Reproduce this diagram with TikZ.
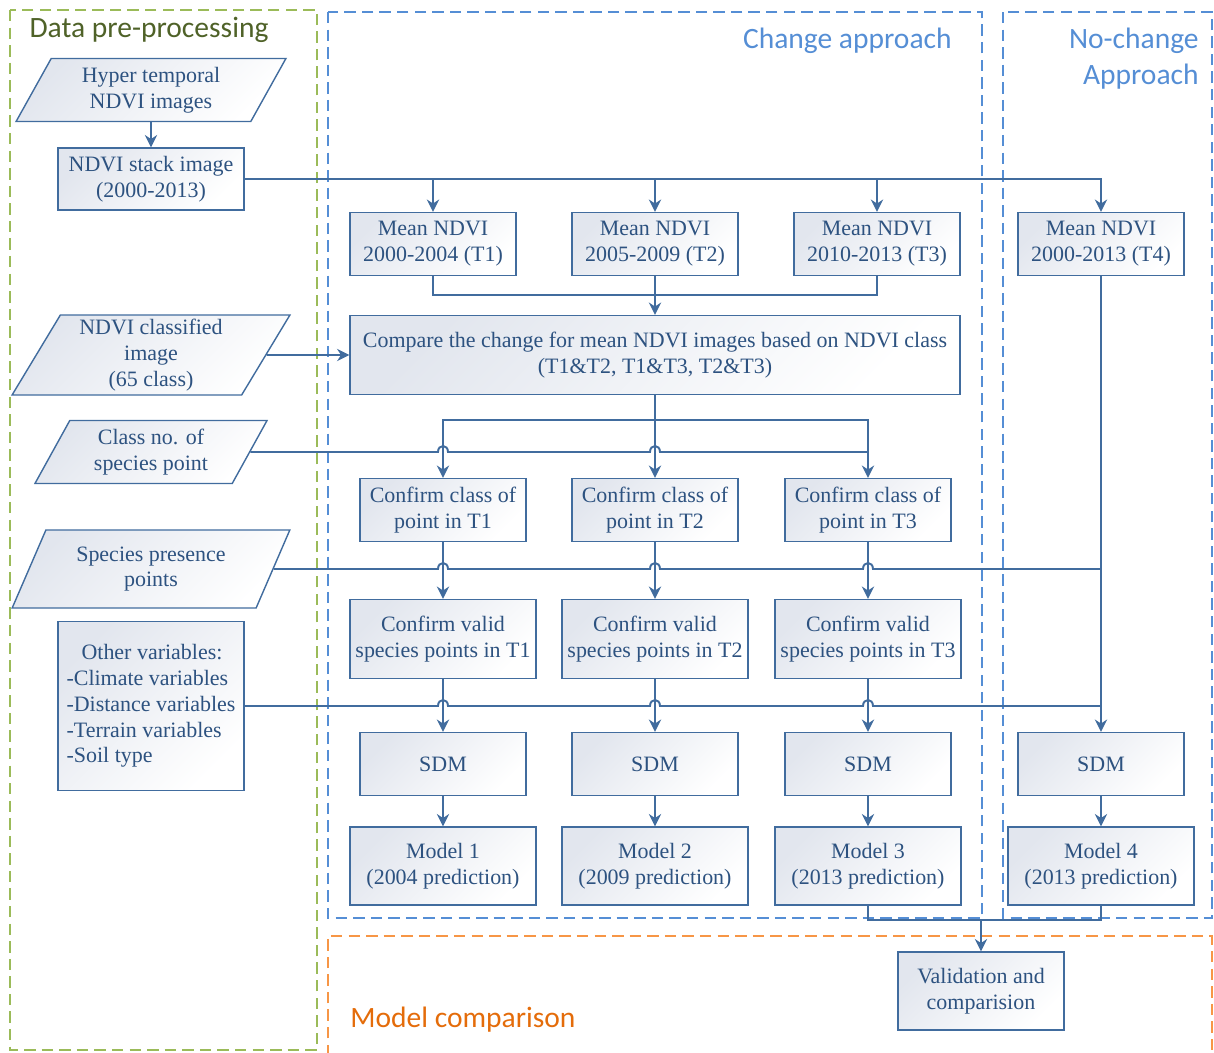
\documentclass[tikz,border=0pt]{standalone}
\usepackage{fontspec}
\setmainfont{Liberation Serif}
\newfontfamily\headfont{Carlito}
\usepackage{tikz}
\usetikzlibrary{arrows.meta, calc, shapes.geometric}
\definecolor{flowblue}{RGB}{65,108,158}
\definecolor{flowtext}{RGB}{45,82,128}
\definecolor{boxshade}{RGB}{226,230,238}
\definecolor{prepgreen}{RGB}{155,187,89}
\definecolor{prepdark}{RGB}{79,98,40}
\definecolor{approachblue}{RGB}{85,142,213}
\definecolor{compareorange}{RGB}{247,150,70}
\definecolor{comparedark}{RGB}{228,108,10}
\newcommand{\boxfont}{\fontsize{12.5}{14.7}\selectfont}
\newcommand{\headsize}{\headfont\fontsize{16.8}{20.4}\selectfont}

\begin{document}
\begin{tikzpicture}[x=0.02cm, y=-0.02cm, >={Stealth[length=7pt,width=7pt]},
    flowbox/.style={draw=flowblue, line width=0.8pt, text=flowtext, font=\boxfont,
      align=center, inner sep=0pt, top color=boxshade, bottom color=white,
      shading angle=45},
    smallbox/.style={flowbox, minimum width=3.32cm, minimum height=1.26cm},
    widebox/.style={flowbox, minimum width=3.72cm, minimum height=1.58cm},
    datain/.style 2 args={flowbox, trapezium, trapezium left angle=62,
      trapezium right angle=118, trapezium stretches=true,
      minimum width=#1, minimum height=#2},
    link/.style={draw=flowblue, line width=1.1pt},
    region/.style={line width=1.5pt, dash pattern=on 6.5pt off 3.5pt},
    title/.style={font=\headsize, inner sep=0pt},
    hopover/.style={insert path={.. controls +(0,-8) and +(0,-8) .. ++(10,0)}}]
  \useasboundingbox (0,0) rectangle (1214,1052);

  % dashed regions and their titles
  \draw[region, prepgreen] (10,10) rectangle (317,1050);
  \draw[region, approachblue] (328,12) rectangle (982,918);
  \draw[region, approachblue] (1003,12) rectangle (1212,918);
  \draw[region, compareorange] (328,1056) -- (328,936) -- (1212,936) -- (1212,1056);
  \node[title, text=prepdark] (preplabel) at (149,30) {Data pre-processing};
  \node[title, text=approachblue, anchor=east] (changelabel) at (952,41) {Change approach};
  \node[title, text=approachblue, anchor=east, align=right] (nochangelabel)
    at (1199,59) {No-change\\Approach};
  \node[title, text=comparedark, anchor=west] (comparelabel) at (350,1020) {Model comparison};

  % inputs
  \node[datain={5.4cm}{1.26cm}] (hyper) at (151,90) {Hyper temporal\\NDVI images};
  \node[flowbox, minimum width=3.72cm, minimum height=1.24cm] (stack) at (151,179)
    {NDVI stack image\\(2000-2013)};
  \node[datain={5.56cm}{1.6cm}] (classified) at (151,355) {NDVI classified\\image\\(65 class)};
  \node[datain={4.68cm}{1.26cm}] (classno) at (151,452) {Class no. of\\species point};
  \node[datain={5.56cm}{1.56cm}] (presence) at (151,569) {Species presence\\points};
  \node[flowbox, minimum width=3.72cm, minimum height=3.38cm, align=left] (othervar) at (151,706)
    {\hspace*{0.3cm}Other variables:\\-Climate variables\\-Distance variables\\-Terrain variables\\-Soil type};

  % mean NDVI periods
  \node[smallbox] (mean1) at (433,244) {Mean NDVI\\2000-2004 (T1)};
  \node[smallbox] (mean2) at (655,244) {Mean NDVI\\2005-2009 (T2)};
  \node[smallbox] (mean3) at (877,244) {Mean NDVI\\2010-2013 (T3)};
  \node[smallbox] (mean4) at (1101,244) {Mean NDVI\\2000-2013 (T4)};
  \node[flowbox, minimum width=12.2cm, minimum height=1.58cm] (compare) at (655,355)
    {Compare the change for mean NDVI images based on NDVI class\\(T1\&T2, T1\&T3, T2\&T3)};

  % change approach columns
  \node[smallbox] (class1) at (443,510) {Confirm class of\\point in T1};
  \node[smallbox] (class2) at (655,510) {Confirm class of\\point in T2};
  \node[smallbox] (class3) at (868,510) {Confirm class of\\point in T3};
  \node[widebox] (valid1) at (443,639) {Confirm valid\\species points in T1};
  \node[widebox] (valid2) at (655,639) {Confirm valid\\species points in T2};
  \node[widebox] (valid3) at (868,639) {Confirm valid\\species points in T3};
  \node[smallbox] (sdm1) at (443,764) {SDM};
  \node[smallbox] (sdm2) at (655,764) {SDM};
  \node[smallbox] (sdm3) at (868,764) {SDM};
  \node[smallbox] (sdm4) at (1101,764) {SDM};
  \node[widebox, minimum height=1.56cm] (model1) at (443,866) {Model 1\\(2004 prediction)};
  \node[widebox, minimum height=1.56cm] (model2) at (655,866) {Model 2\\(2009 prediction)};
  \node[widebox, minimum height=1.56cm] (model3) at (868,866) {Model 3\\(2013 prediction)};
  \node[widebox, minimum height=1.56cm] (model4) at (1101,866) {Model 4\\(2013 prediction)};
  \node[smallbox, minimum height=1.56cm] (valid) at (981,991) {Validation and\\comparision};

  % junction points
  \coordinate (meanjoin) at (655,295);
  \coordinate (comparejoin) at (655,420);
  \coordinate (modeljoin) at (981,920);

  % connectors
  \draw[link,->] (stack.north |- hyper.south) -- (stack.north);
  \draw[link,->] (stack.east) -| (mean4.north);
  \draw[link,->] (mean1.north |- stack.east) -- (mean1.north);
  \draw[link,->] (mean2.north |- stack.east) -- (mean2.north);
  \draw[link,->] (mean3.north |- stack.east) -- (mean3.north);
  \draw[link] (mean1.south) |- (meanjoin) -| (mean3.south);
  \draw[link,->] (mean2.south) -- (compare.north);
  \draw[link,->] (classified.east) -- (compare.west);

  \draw[link] (compare.south) -- (comparejoin);
  \draw[link,->] (comparejoin) -| (class1.north);
  \draw[link,->] (comparejoin) -| (class3.north);
  \draw[link,->] (comparejoin) -- (class2.north);
  \draw[link] (classno.east) -- ($(class1.north |- classno.east)+(-5,0)$) [hopover]
    -- ($(class2.north |- classno.east)+(-5,0)$) [hopover] -- (class3.north |- classno.east);

  \draw[link,->] (class1.south) -- (valid1.north);
  \draw[link,->] (class2.south) -- (valid2.north);
  \draw[link,->] (class3.south) -- (valid3.north);
  \draw[link] (presence.east) -- ($(class1.south |- presence.east)+(-5,0)$) [hopover]
    -- ($(class2.south |- presence.east)+(-5,0)$) [hopover]
    -- ($(class3.south |- presence.east)+(-5,0)$) [hopover] -- (mean4.south |- presence.east);

  \draw[link,->] (valid1.south) -- (sdm1.north);
  \draw[link,->] (valid2.south) -- (sdm2.north);
  \draw[link,->] (valid3.south) -- (sdm3.north);
  \draw[link] (othervar.east) -- ($(valid1.south |- othervar.east)+(-5,0)$) [hopover]
    -- ($(valid2.south |- othervar.east)+(-5,0)$) [hopover]
    -- ($(valid3.south |- othervar.east)+(-5,0)$) [hopover] -- (mean4.south |- othervar.east);
  \draw[link,->] (mean4.south) -- (sdm4.north);

  \draw[link,->] (sdm1.south) -- (model1.north);
  \draw[link,->] (sdm2.south) -- (model2.north);
  \draw[link,->] (sdm3.south) -- (model3.north);
  \draw[link,->] (sdm4.south) -- (model4.north);
  \draw[link] (model3.south) |- (modeljoin) -| (model4.south);
  \draw[link,->] (modeljoin) -- (valid.north);
\end{tikzpicture}
\end{document}
